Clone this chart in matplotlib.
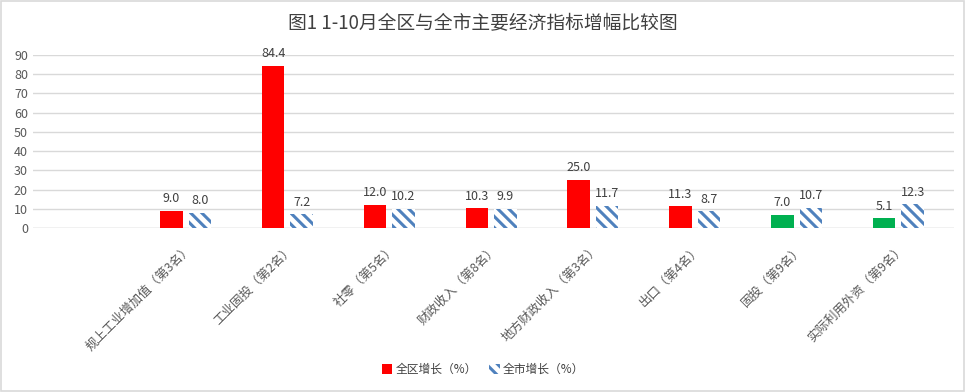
import numpy as np
import matplotlib.pyplot as plt
from matplotlib.patches import Rectangle

plt.rcParams['font.family'] = ['Noto Sans CJK SC', 'DejaVu Sans']
plt.rcParams['hatch.linewidth'] = 2.2

# Data (first slot is empty in the original)
categories = ['', '规上工业增加值（第3名）', '工业固投（第2名）', '社零（第5名）', '财政收入（第8名）',
              '地方财政收入（第3名）', '出口（第4名）', '固投（第9名）', '实际利用外资（第9名）']
district = [np.nan, 9.0, 84.4, 12.0, 10.3, 25.0, 11.3, 7.0, 5.1]
city = [np.nan, 8.0, 7.2, 10.2, 9.9, 11.7, 8.7, 10.7, 12.3]
yticks = list(range(0, 100, 10))

red = '#ff0000'
green = '#00b050'
blue = '#4f81bd'
text_col = '#404040'
bar_colors = [red, red, red, red, red, red, red, green, green]

fig = plt.figure(figsize=(9.66, 3.92), dpi=100)
ax = fig.add_axes([0.034, 0.418, 0.954, 0.442])

x = np.arange(len(categories))
w = 0.22
off = 0.14

ax.bar(x - off, district, w, color=bar_colors, label='全区增长（%）', zorder=3)
ax.bar(x + off, city, w, facecolor='white', edgecolor=blue, hatch='\\\\\\', linewidth=0,
       label='全市增长（%）', zorder=3)

for xi, d, c in zip(x, district, city):
    if np.isnan(d):
        continue
    ax.text(xi - off, d + 3, f'{d:.1f}', ha='center', va='bottom', fontsize=9, color=text_col)
    ax.text(xi + off, c + 3, f'{c:.1f}', ha='center', va='bottom', fontsize=9, color=text_col)

ax.set_xlim(-0.5, len(categories) - 0.45)
ax.set_ylim(0, 90)
ax.set_yticks(yticks)
ax.yaxis.grid(True, color='#d9d9d9', linewidth=1, zorder=0)
ax.set_xticks(x)
ax.set_xticklabels(categories, rotation=45, ha='right', rotation_mode='anchor',
                   fontsize=8, color='#595959')
ax.tick_params(axis='both', length=0, labelsize=9, colors='#595959')
ax.tick_params(axis='x', pad=10)
for s in ax.spines.values():
    s.set_visible(False)
ax.axhline(0, color='#d9d9d9', linewidth=1, zorder=2)

fig.text(0.5, 0.94, '图1 1-10月全区与全市主要经济指标增幅比较图', ha='center', va='center',
         fontsize=13.5, color='#404040')

leg = fig.legend(loc='center', bbox_to_anchor=(0.5, 0.058), ncol=2, frameon=False,
                 fontsize=8.5, handlelength=0.9, handleheight=0.9, handletextpad=0.3,
                 columnspacing=1.0)
for t in leg.get_texts():
    t.set_color(text_col)

fig.patches.append(Rectangle((0.001, 0.002), 0.997, 0.995, transform=fig.transFigure,
                             fill=False, edgecolor='#d9d9d9', linewidth=1.2))

fig.savefig('out.png', dpi=100)
